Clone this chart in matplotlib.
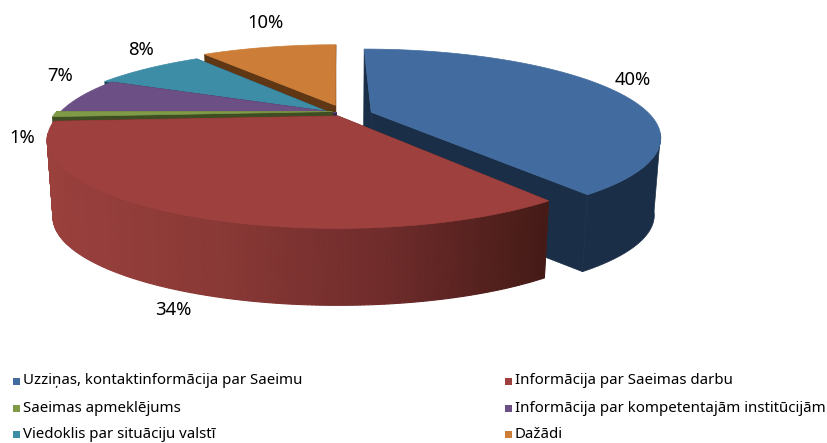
import numpy as np
import matplotlib
matplotlib.use('Agg')
import matplotlib.pyplot as plt
from matplotlib.colors import LinearSegmentedColormap
from matplotlib.patches import Polygon, Rectangle

categories = ['Uzziņas, kontaktinformācija par Saeimu', 'Informācija par Saeimas darbu',
              'Saeimas apmeklējums', 'Informācija par kompetentajām institūcijām',
              'Viedoklis par situāciju valstī', 'Dažādi']
values = [40, 34, 1, 7, 8, 10]
top_colors = ['#426C9F', '#9E413E', '#7F9B48', '#6C5085', '#3D8DA7', '#CC7D38']
side_colors = ['#1A2E47', '#5A2421', '#3F4D22', '#35274A', '#1D4654', '#5F3714']

# how far each slice is pulled out, in disc units (sideways, backwards)
shift_u = [0.12, 0, -0.02, -0.005, -0.035, -0.01]
shift_v = [0.047, 0, 0.055, 0.04, 0.05, 0.135]

# pie in perspective, fitted to the picture in pixels
cx, cy = 338, 116
R, S, k = 280, 82, 0.27
depth = 77
shrink = 0.98


def project(u, v):
    w = 1 + k * v
    return cx + R * u / w, cy - S * v / w


def lower(x, y):
    return cx + (x - cx) * shrink, y + depth


plt.rcParams['font.family'] = ['Noto Sans', 'DejaVu Sans']
fig = plt.figure(figsize=(8.28, 4.43), dpi=100)
ax = fig.add_axes([0, 0, 1, 1])
ax.set_xlim(0, 828)
ax.set_ylim(443, 0)
ax.axis('off')

edges = np.cumsum([0] + values) / sum(values) * 2 * np.pi
wall_cmap = LinearSegmentedColormap.from_list('wall', ['#9A403D', '#8A3936', '#702C2B', '#451B17'])

# back slices first, blue and red go on top
for i in [5, 4, 3, 2, 0, 1]:
    t = np.linspace(edges[i], edges[i + 1], 200)
    u = np.sin(t) + shift_u[i]
    v = np.cos(t) + shift_v[i]
    x, y = project(u, v)
    ax0, ay0 = project(shift_u[i], shift_v[i])
    bx, by = lower(x, y)
    bax, bay = lower(ax0, ay0)

    # the two cut faces
    ax.add_patch(Polygon([(ax0, ay0), (x[0], y[0]), (bx[0], by[0]), (bax, bay)],
                         fc=side_colors[i], ec=side_colors[i], lw=0.5))
    ax.add_patch(Polygon([(ax0, ay0), (x[-1], y[-1]), (bx[-1], by[-1]), (bax, bay)],
                         fc=side_colors[i], ec=side_colors[i], lw=0.5))

    # outer wall, only the part facing us, red one fades along x
    front = v < -0.2
    fx, fy, fbx, fby = x[front], y[front], bx[front], by[front]
    if i == 1:
        for j in range(len(fx) - 1):
            pts = [(fx[j], fy[j]), (fx[j + 1], fy[j + 1]), (fbx[j + 1], fby[j + 1]), (fbx[j], fby[j])]
            c = wall_cmap((fx[j] - x.min()) / (x.max() - x.min()))
            ax.add_patch(Polygon(pts, fc=c, ec=c, lw=0.8))
    elif len(fx) > 1:
        wall = list(zip(fx, fy)) + list(zip(fbx[::-1], fby[::-1]))
        ax.add_patch(Polygon(wall, fc=side_colors[i], ec=side_colors[i], lw=0.5))

    top = [(ax0, ay0)] + list(zip(x, y))
    ax.add_patch(Polygon(top, fc=top_colors[i], ec=top_colors[i], lw=0.5, joinstyle='miter'))

label_x = [633, 173, 22, 60, 141, 265]
label_y = [80, 310, 138, 76, 50, 23]
for val, lx, ly in zip(values, label_x, label_y):
    ax.text(lx, ly, f'{val}%', fontsize=13.3, color='black', ha='center', va='center')

legend_x = [13, 505]
legend_y = [381, 408, 434]
for i, name in enumerate(categories):
    sx = legend_x[i % 2]
    sy = legend_y[i // 2]
    ax.add_patch(Rectangle((sx, sy - 3.5), 7, 7, fc=top_colors[i], ec='none'))
    ax.text(sx + 10, sy, name, fontsize=10.8, color='black', ha='left', va='center')

fig.savefig('out.png', dpi=100)
